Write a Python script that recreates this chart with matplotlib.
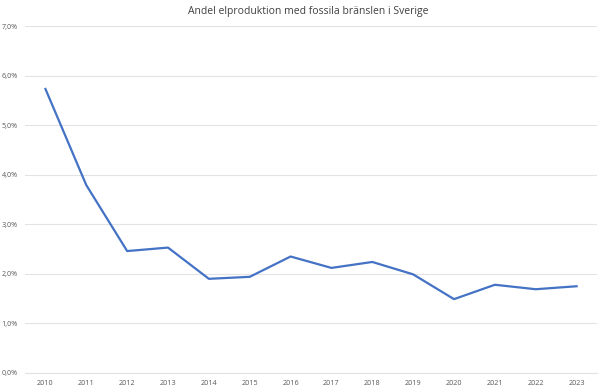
import matplotlib.pyplot as plt
from matplotlib.ticker import FuncFormatter

years = [2010, 2011, 2012, 2013, 2014, 2015, 2016, 2017, 2018, 2019, 2020, 2021, 2022, 2023]
share = [5.73, 3.79, 2.46, 2.53, 1.90, 1.94, 2.35, 2.12, 2.24, 1.99, 1.49, 1.78, 1.69, 1.75]
title = 'Andel elproduktion med fossila bränslen i Sverige'

plt.rcParams['font.family'] = ['Open Sans', 'DejaVu Sans']

fig = plt.figure(figsize=(6, 3.9), dpi=100)
ax = fig.add_axes([0.0417, 0.0436, 0.9533, 0.8897])

x = list(range(len(years)))
ax.plot(x, share, color='#4472C4', linewidth=1.6, solid_joinstyle='round')

ax.set_xlim(-0.5, len(years) - 0.5)
ax.set_ylim(0, 7)
ax.set_yticks(range(0, 8))
ax.yaxis.set_major_formatter(FuncFormatter(lambda v, p: f'{v:.1f}%'.replace('.', ',')))
ax.set_xticks(x)
ax.set_xticklabels([str(y) for y in years])

ax.grid(axis='y', color='#e3e3e3', linewidth=0.8)
ax.set_axisbelow(True)
for s in ['top', 'right', 'left']:
    ax.spines[s].set_visible(False)
ax.spines['bottom'].set_color('#e3e3e3')
ax.spines['bottom'].set_linewidth(0.8)
ax.tick_params(length=0, labelsize=5.2, labelcolor='#595959', pad=5)

fig.suptitle(title, x=0.513, y=0.985, fontsize=7.5, color='#404040')

fig.savefig('out.png', dpi=100)
